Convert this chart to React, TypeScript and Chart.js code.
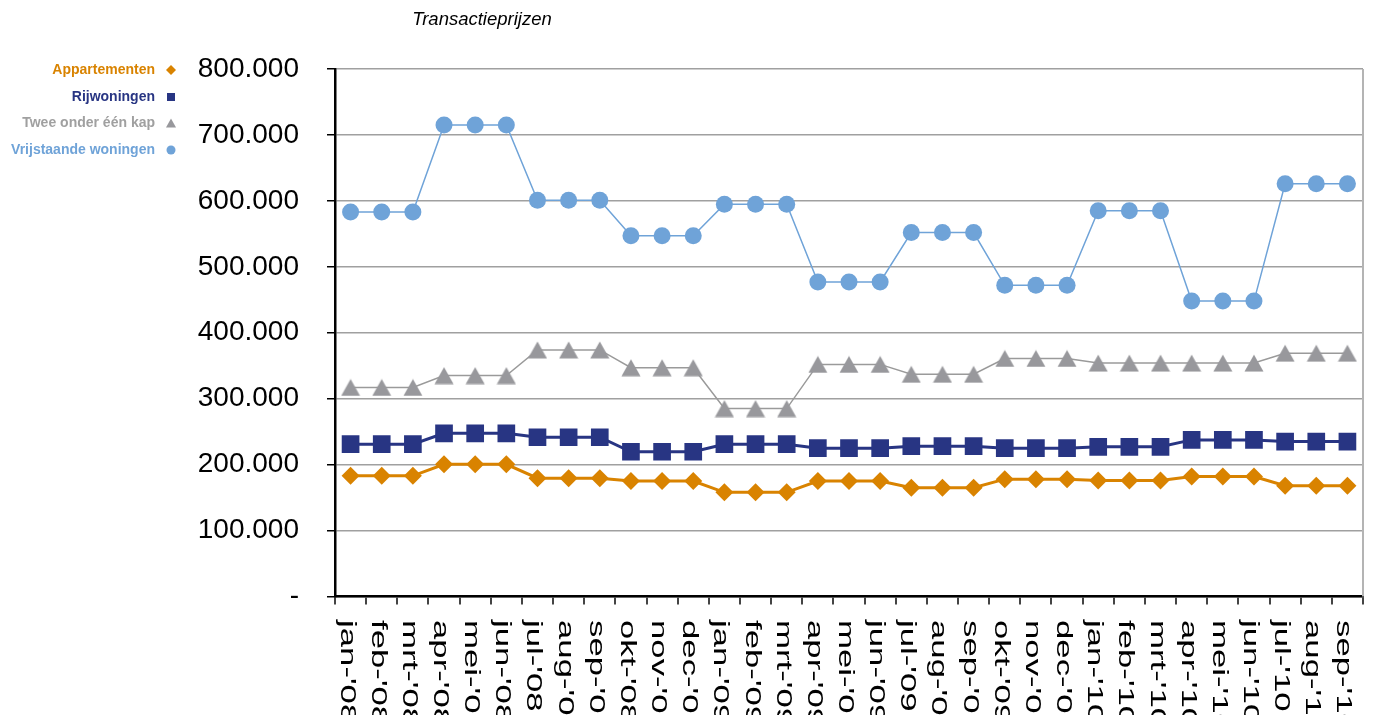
import React, { useEffect, useRef } from 'react';
import { Chart, registerables } from 'chart.js';

Chart.register(...registerables);

const categories = [
  "jan-'08", "feb-'08", "mrt-'08", "apr-'08", "mei-'08", "jun-'08",
  "jul-'08", "aug-'08", "sep-'08", "okt-'08", "nov-'08", "dec-'08",
  "jan-'09", "feb-'09", "mrt-'09", "apr-'09", "mei-'09", "jun-'09",
  "jul-'09", "aug-'09", "sep-'09", "okt-'09", "nov-'09", "dec-'09",
  "jan-'10", "feb-'10", "mrt-'10", "apr-'10", "mei-'10", "jun-'10",
  "jul-'10", "aug-'10", "sep-'10",
];

const appartementen = [
  183000, 183000, 183000, 200500, 200500, 200500, 179500, 179500, 179500,
  175000, 175000, 175000, 158000, 158000, 158000, 175000, 175000, 175000,
  165000, 165000, 165000, 178000, 178000, 178000, 176000, 176000, 176000,
  182000, 182000, 182000, 168000, 168000, 168000,
];

const rijwoningen = [
  231000, 231000, 231000, 247500, 247500, 247500, 241500, 241500, 241500,
  219500, 219500, 219500, 231000, 231000, 231000, 225000, 225000, 225000,
  228000, 228000, 228000, 225000, 225000, 225000, 227000, 227000, 227000,
  237500, 237500, 237500, 235000, 235000, 235000,
];

const tweeOnderEenKap = [
  317000, 317000, 317000, 335000, 335000, 335000, 374000, 374000, 374000,
  347000, 347000, 347000, 285000, 285000, 285000, 352000, 352000, 352000,
  337000, 337000, 337000, 361000, 361000, 361000, 354000, 354000, 354000,
  354000, 354000, 354000, 369000, 369000, 369000,
];

const vrijstaande = [
  583000, 583000, 583000, 715000, 715000, 715000, 601000, 601000, 601000,
  547000, 547000, 547000, 595000, 595000, 595000, 477000, 477000, 477000,
  552000, 552000, 552000, 472000, 472000, 472000, 585000, 585000, 585000,
  448000, 448000, 448000, 626000, 626000, 626000,
];

const yTicks = [0, 100000, 200000, 300000, 400000, 500000, 600000, 700000, 800000];

const seriesNames = ['Appartementen', 'Rijwoningen', 'Twee onder één kap', 'Vrijstaande woningen'];
const seriesColors = ['#D98300', '#283583', '#98989C', '#6FA3D8'];
const legendTextColors = ['#D98300', '#283583', '#A0A0A0', '#6FA3D8'];
const titleText = 'Transactieprijzen';

function formatNL(v: number): string {
  if (v === 0) return '-';
  const s = Math.round(v).toString();
  return s.replace(/\B(?=(\d{3})+(?!\d))/g, '.');
}

function makeTriangle(color: string): HTMLCanvasElement {
  const c = document.createElement('canvas');
  c.width = 20;
  c.height = 18;
  const g = c.getContext('2d') as CanvasRenderingContext2D;
  g.fillStyle = color;
  g.beginPath();
  g.moveTo(10, 0.5);
  g.lineTo(19.5, 17.5);
  g.lineTo(0.5, 17.5);
  g.closePath();
  g.fill();
  return c;
}

function drawSymbol(ctx: CanvasRenderingContext2D, kind: string, x: number, y: number, color: string) {
  ctx.save();
  ctx.fillStyle = color;
  ctx.beginPath();
  if (kind === 'diamond') {
    const r = 5;
    ctx.moveTo(x - r, y); ctx.lineTo(x, y - r); ctx.lineTo(x + r, y); ctx.lineTo(x, y + r);
    ctx.closePath();
  } else if (kind === 'square') {
    ctx.rect(x - 4, y - 4, 8, 8);
  } else if (kind === 'triangle') {
    ctx.moveTo(x, y - 5); ctx.lineTo(x + 5, y + 4); ctx.lineTo(x - 5, y + 4);
    ctx.closePath();
  } else {
    ctx.arc(x, y, 4.5, 0, Math.PI * 2);
  }
  ctx.fill();
  ctx.restore();
}

const decorPlugin = {
  id: 'decor',
  beforeDatasetsDraw(chart: any) {
    const { ctx, chartArea } = chart;
    ctx.save();
    ctx.strokeStyle = '#B4B4B4';
    ctx.lineWidth = 2;
    ctx.beginPath();
    ctx.moveTo(chartArea.right, chartArea.top);
    ctx.lineTo(chartArea.right, chartArea.bottom);
    ctx.stroke();
    ctx.restore();
  },
  afterDraw(chart: any) {
    const { ctx } = chart;
    const xScale = chart.scales.x;
    // title
    ctx.save();
    ctx.fillStyle = '#000';
    ctx.font = 'italic 18.5px "Liberation Sans", Arial, sans-serif';
    ctx.textAlign = 'center';
    ctx.textBaseline = 'alphabetic';
    ctx.fillText(titleText, 482, 25);
    ctx.restore();

    // legend
    const kinds = ['diamond', 'square', 'triangle', 'circle'];
    const rowsY = [70, 97, 123.5, 150];
    ctx.save();
    ctx.font = 'bold 14px "Liberation Sans", Arial, sans-serif';
    ctx.textAlign = 'right';
    ctx.textBaseline = 'middle';
    seriesNames.forEach((name, i) => {
      ctx.fillStyle = legendTextColors[i];
      ctx.fillText(name, 155, rowsY[i]);
      drawSymbol(ctx, kinds[i], 171, rowsY[i], seriesColors[i]);
    });
    ctx.restore();

    // x labels rotated clockwise
    ctx.save();
    ctx.fillStyle = '#000';
    ctx.font = '22px "Liberation Sans", Arial, sans-serif';
    ctx.textAlign = 'left';
    ctx.textBaseline = 'alphabetic';
    categories.forEach((lab, i) => {
      const x = xScale.getPixelForValue(i);
      ctx.save();
      ctx.translate(x - 10, 620);
      ctx.rotate(Math.PI / 2);
      ctx.scale(1.58, 1);
      ctx.fillText(lab, 0, 0);
      ctx.restore();
    });
    ctx.restore();
  },
};

export default function App() {
  const canvasRef = useRef<HTMLCanvasElement | null>(null);

  useEffect(() => {
    if (!canvasRef.current) return;
    const tri = makeTriangle(seriesColors[2]);
    const chart = new Chart(canvasRef.current, {
      type: 'line',
      data: {
        labels: categories,
        datasets: [
          {
            label: seriesNames[0],
            data: appartementen,
            borderColor: seriesColors[0],
            backgroundColor: seriesColors[0],
            borderWidth: 3,
            pointStyle: 'rectRot',
            pointRadius: 9,
            pointBorderWidth: 0,
            tension: 0,
          },
          {
            label: seriesNames[1],
            data: rijwoningen,
            borderColor: seriesColors[1],
            backgroundColor: seriesColors[1],
            borderWidth: 3,
            pointStyle: 'rect',
            pointRadius: 12.5,
            pointBorderWidth: 0,
            tension: 0,
          },
          {
            label: seriesNames[2],
            data: tweeOnderEenKap,
            borderColor: '#9A9A9A',
            backgroundColor: seriesColors[2],
            borderWidth: 1.5,
            pointStyle: tri,
            pointRadius: 10,
            pointBorderWidth: 0,
            tension: 0,
          },
          {
            label: seriesNames[3],
            data: vrijstaande,
            borderColor: seriesColors[3],
            backgroundColor: seriesColors[3],
            borderWidth: 1.5,
            pointStyle: 'circle',
            pointRadius: 8.5,
            pointBorderWidth: 0,
            tension: 0,
          },
        ],
      },
      options: {
        responsive: false,
        animation: false,
        devicePixelRatio: 1,
        layout: { padding: { top: 69, right: 14, left: 0, bottom: 0 } },
        plugins: {
          legend: { display: false },
          title: { display: false },
          tooltip: { enabled: false },
        },
        scales: {
          x: {
            type: 'category',
            offset: true,
            afterFit(scale: any) { scale.height = 118.5; },
            grid: {
              offset: true,
              drawOnChartArea: false,
              drawTicks: true,
              tickLength: 8,
              tickColor: '#444444',
              lineWidth: 2,
            },
            border: { display: true, color: '#000000', width: 2.5 },
            ticks: { display: false },
          },
          y: {
            min: 0,
            max: 800000,
            afterFit(scale: any) { scale.width = 335; },
            afterBuildTicks(scale: any) {
              scale.ticks = yTicks.map((v) => ({ value: v }));
            },
            grid: {
              color: '#A0A0A0',
              lineWidth: 1.5,
              drawTicks: true,
              tickLength: 8,
              tickColor: '#000000',
            },
            border: { display: true, color: '#000000', width: 2.5 },
            ticks: {
              padding: 28,
              color: '#000000',
              font: { family: '"Liberation Sans", Arial, sans-serif', size: 28 },
              callback: (v: any) => formatNL(Number(v)),
            },
          },
        },
      },
      plugins: [decorPlugin],
    } as any);
    return () => chart.destroy();
  }, []);

  return (
    <div style={{ position: 'absolute', left: 0, top: 0, width: 1377, height: 715, background: '#fff' }}>
      <canvas ref={canvasRef} width={1377} height={715} style={{ display: 'block' }} />
    </div>
  );
}
